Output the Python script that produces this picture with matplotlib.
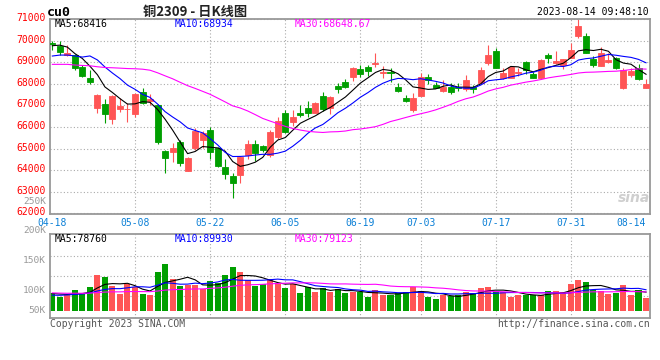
import pandas as pd
import matplotlib
matplotlib.use("Agg")
import matplotlib.pyplot as plt
from matplotlib.transforms import ScaledTranslation

# cu2309 daily candles, 2023-04-18 .. 2023-08-14
opens = [69880, 69750, 69330, 69330, 68790, 68250, 66860, 67050, 66380, 66850,
         66810, 66590, 67610, 67200, 67020, 64890, 64850, 65320, 63970, 65010,
         65400, 65860, 65010, 64130, 63730, 63770, 64700, 65210, 65120, 64700,
         65520, 66660, 66240, 66630, 66860, 66660, 67430, 66860, 67900, 68100,
         68300, 68670, 68760, 68920, 68490, 68560, 67860, 67360, 66790, 67430,
         68330, 67940, 67680, 67840, 67840, 67740, 67840, 68050, 68950, 69520,
         68280, 68280, 68490, 68990, 68450, 68280, 69330, 68950, 68870, 69210,
         70210, 70210, 69130, 68840, 69020, 69180, 67820, 68410, 68740, 67820]
highs = [69980, 69980, 69800, 69400, 68870, 68640, 67530, 67280, 67480, 67360,
         67100, 67560, 67790, 67530, 67060, 64930, 65270, 65400, 64620, 65970,
         65810, 66010, 65090, 64520, 63850, 64670, 65400, 65400, 65160, 65860,
         66480, 66790, 66790, 67020, 67200, 67170, 67630, 67430, 68050, 68210,
         68790, 68870, 68870, 69440, 68820, 68720, 68020, 67480, 67560, 68490,
         68450, 68100, 68170, 68020, 68020, 68410, 67940, 68790, 69800, 69640,
         68720, 68820, 68720, 69060, 68560, 69130, 69440, 69520, 69150, 69870,
         70990, 70340, 69290, 69690, 69410, 69250, 68740, 68740, 68900, 68220]
lows = [69560, 69330, 69290, 68640, 68330, 67980, 66660, 66200, 66120, 66710,
        66220, 66480, 67050, 67020, 65210, 63880, 64390, 64190, 63970, 64930,
        65010, 64500, 64160, 63580, 62700, 63390, 64520, 64440, 64850, 64620,
        65440, 65730, 66040, 66450, 66450, 66630, 66750, 66600, 67590, 67820,
        68140, 68330, 68380, 68760, 68250, 68100, 67610, 67140, 66710, 67430,
        67990, 67790, 67630, 67530, 67680, 67680, 67560, 68020, 68870, 68720,
        68210, 68250, 68360, 68450, 68280, 68210, 68980, 68920, 68670, 69180,
        70110, 69410, 68790, 68840, 68950, 68670, 67740, 68300, 68170, 67820]
closes = [69865, 69470, 69410, 68720, 68380, 68100, 67480, 66590, 67430, 66970,
          66830, 67530, 67100, 67280, 65320, 64580, 65010, 64340, 64580, 65810,
          65730, 64850, 64190, 63810, 63420, 64620, 65210, 64780, 64930, 65780,
          66280, 65780, 66480, 66540, 66660, 67120, 66820, 67400, 67740, 67860,
          68720, 68450, 68610, 68980, 68560, 68490, 67680, 67220, 67330, 68300,
          68170, 67790, 67840, 67630, 67790, 68170, 67740, 68640, 69330, 68740,
          68510, 68790, 68550, 68640, 68280, 69100, 69180, 69060, 69150, 69560,
          70680, 69440, 68870, 69440, 69100, 68740, 68640, 68610, 68220, 67990]
volumes = [76600, 59600, 69800, 88000, 76600, 102000, 152000, 145000, 105000, 71000,
           113600, 102000, 71000, 66800, 166000, 198700, 135000, 106000, 109000, 112000,
           92000, 128000, 116500, 152000, 187000, 166000, 130600, 106000, 113600, 135000,
           116500, 98000, 113600, 76600, 99600, 81000, 98000, 81000, 95000, 76600,
           81000, 81000, 59600, 88000, 69800, 66800, 76600, 81000, 102000, 85000,
           59600, 49800, 66800, 62600, 69800, 81000, 76600, 98000, 102000, 84000,
           81000, 59600, 66800, 66800, 66800, 69800, 84000, 84000, 81000, 113600,
           130600, 121000, 91000, 84000, 74000, 78000, 112000, 66800, 88000, 55000]

# the 29 sessions before 04-18, estimated from where the MA lines start
earlier_closes = [69470, 69400, 69650, 69000, 68500, 68900, 67600, 67800, 67500, 67400,
                  67800, 67700, 68700, 68900, 68800, 69100, 69200, 69300, 69600, 69820,
                  69030, 69410, 69120, 68900, 67580, 69340, 69860, 70220, 69530]
earlier_volumes = [85000, 90000, 78000, 95000, 72000, 80000, 88000, 76000, 70000, 84000,
                   92000, 79000, 75000, 86000, 81000, 77000, 83000, 74000, 80000, 85000,
                   62000, 55000, 66000, 58000, 57000, 70000, 78000, 72000, 73000]

tick_pos = [0, 11, 21, 31, 41, 49, 59, 69, 79]
tick_labels = ["04-18", "05-08", "05-22", "06-05", "06-19", "07-03", "07-17", "07-31", "08-14"]

price_ma_text = ["MA5:68416", "MA10:68934", "MA30:68648.67"]
vol_ma_text = ["MA5:78760", "MA10:89930", "MA30:79123"]
vol_labels = ["250K", "200K", "150K", "100K", "50K"]

UP, DOWN = "#ff5555", "#009f00"
MA_COLORS = ["black", "#0000ff", "#ff00ff"]
MONO = "DejaVu Sans Mono"
GRID = dict(color="#aaaaaa", lw=0.8, ls=(0, (1, 2)))

W, H = 660, 360


def box(l, t, r, b):
    return [l / W, 1 - b / H, (r - l) / W, (b - t) / H]


def px(x, y):
    return x / W, 1 - y / H


def rolling(prev, vals, w):
    s = pd.Series(prev + vals).rolling(w).mean().to_numpy()
    return s[len(prev):]


fig = plt.figure(figsize=(6.6, 3.6), dpi=100)
ax = fig.add_axes(box(50, 19, 650, 214))
axv = fig.add_axes(box(50, 234, 650, 318))

x = list(range(len(closes)))
colors = [UP if c >= o else DOWN for o, c in zip(opens, closes)]

# --- price panel
ax.vlines(x, lows, highs, colors=colors, lw=0.8, zorder=2)
ax.bar(x, [abs(c - o) for o, c in zip(opens, closes)], bottom=[min(o, c) for o, c in zip(opens, closes)],
       width=0.8, color=colors, edgecolor=colors, lw=0.6, zorder=3)
for w, col in zip((5, 10, 30), MA_COLORS):
    ax.plot(x, rolling(earlier_closes, closes, w), color=col, lw=0.8, zorder=4)

ax.set_ylim(61970, 71000)
ax.set_yticks(range(62000, 71001, 1000))
ax.grid(axis="y", **GRID)

# --- volume panel
axv.bar(x, volumes, width=0.8, color=colors, zorder=2)
for w, col in zip((5, 10, 30), MA_COLORS):
    axv.plot(x, rolling(earlier_volumes, volumes, w), color=col, lw=0.8, zorder=3)
vy0, vy1 = -29800, 326400
axv.set_ylim(vy0, vy1)
axv.set_yticks([])
for f in (0.26, 0.5, 0.74):
    axv.axhline(vy0 + f * (vy1 - vy0), zorder=1, **GRID)

for a in (ax, axv):
    a.set_xlim(-0.31, 79.53)
    for p in tick_pos[1:-1]:
        a.axvline(p, zorder=1, **GRID)
    for s in a.spines.values():
        s.set_color("#999999")
        s.set_linewidth(1.3)
    a.set_axisbelow(True)

ax.set_xticks(tick_pos, tick_labels)
ax.tick_params(length=0, labelsize=7, pad=3)
lift = ScaledTranslation(0, 2 / 100, fig.dpi_scale_trans)
for t in ax.get_yticklabels():
    t.set_color("red")
    t.set_fontfamily(MONO)
    t.set_transform(t.get_transform() + lift)
for t in ax.get_xticklabels():
    t.set_color("#0a7fd6")
    t.set_fontfamily(MONO)
ax.get_xticklabels()[-1].set_ha("right")
axv.set_xticks([])

# --- texts
fig.text(*px(47, 12), "cu0", family=MONO, weight="bold", size=9.5, va="center")
fig.text(*px(195, 12), "铜2309 - 日K线图", family=["Noto Sans CJK SC", "DejaVu Sans"],
         weight="bold", size=9.5, color="#222222", ha="center", va="center")
fig.text(*px(649, 12), "2023-08-14 09:48:10", family=MONO, size=7, ha="right", va="center")

for label, col, xp in zip(price_ma_text, MA_COLORS, (55, 175, 295)):
    fig.text(*px(xp, 24), label, family=MONO, size=7, color=col, va="center")
for label, col, xp in zip(vol_ma_text, MA_COLORS, (55, 175, 295)):
    fig.text(*px(xp, 238.5), label, family=MONO, size=7, color=col, va="center")

for label, yp in zip(vol_labels, (201.5, 230.7, 260.3, 290.3, 310.7)):
    fig.text(*px(46, yp), label, family=MONO, size=6.8, color="#999999", ha="right", va="center")

fig.text(*px(50, 324), "Copyright 2023 SINA.COM", family=MONO, size=7, color="#555555", va="center")
fig.text(*px(650, 324), "http://finance.sina.com.cn", family=MONO, size=7, color="#555555",
         ha="right", va="center")
fig.text(*px(634, 198), "sina", family="DejaVu Sans", style="italic", weight="bold", size=10,
         color="#bbbbbb", alpha=0.7, ha="center", va="center")

fig.savefig("out.png", dpi=100)
